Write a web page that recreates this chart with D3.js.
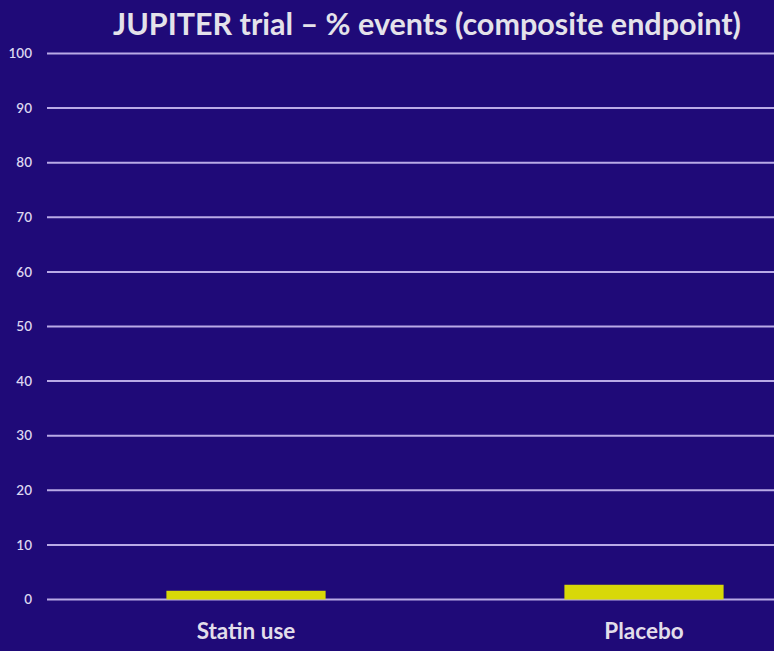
<!DOCTYPE html>
<html><head><meta charset="utf-8">
<script src="https://cdn.jsdelivr.net/npm/d3@7"></script>
<style>html,body{margin:0;padding:0;background:#1f0a78;overflow:hidden}</style>
</head><body>
<script>
const categories = ["Statin use", "Placebo"];
const values = [1.6, 2.7];
const yTicks = [0, 10, 20, 30, 40, 50, 60, 70, 80, 90, 100];
const title = "JUPITER trial – % events (composite endpoint)";

const W = 774, H = 651;
const svg = d3.select("body").append("svg").attr("width", W).attr("height", H);
svg.append("rect").attr("width", W).attr("height", H).attr("fill", "#1f0a78");

const y = d3.scaleLinear().domain([0, 100]).range([599.5, 53.5]);
const x = d3.scaleBand().domain(categories).range([47, 843]).paddingInner(0.6).paddingOuter(0.3);

// gridlines
svg.append("g").selectAll("line").data(yTicks).join("line")
  .attr("x1", 47).attr("x2", W)
  .attr("y1", d => y(d)).attr("y2", d => y(d))
  .attr("stroke", "#b9aae6").attr("stroke-width", 2);

// y tick labels
svg.append("g").selectAll("text").data(yTicks).join("text")
  .attr("x", 32).attr("y", d => y(d)).attr("dy", "0.35em")
  .attr("text-anchor", "end")
  .attr("font-family", "Lato, 'Open Sans', sans-serif").attr("font-size", 13.5).attr("font-weight", 600)
  .attr("fill", "#dcd6f0").text(d => d);

// bars
svg.append("g").selectAll("rect").data(values).join("rect")
  .attr("x", (d, i) => x(categories[i]))
  .attr("width", x.bandwidth())
  .attr("y", d => y(d))
  .attr("height", d => y(0) - y(d))
  .attr("fill", "#d8d808");

// category labels
svg.append("g").selectAll("text").data(categories).join("text")
  .attr("x", d => x(d) + x.bandwidth() / 2).attr("y", 639)
  .attr("text-anchor", "middle")
  .attr("font-family", "Lato, 'Open Sans', sans-serif").attr("font-weight", "bold").attr("font-size", 22.5)
  .attr("fill", "#e2deea").text(d => d);

// title
svg.append("text").attr("x", 427).attr("y", 35).attr("text-anchor", "middle")
  .attr("font-family", "Lato, 'Open Sans', sans-serif").attr("font-weight", "bold").attr("font-size", 30.5)
  .attr("fill", "#e4e2ea").text(title);
</script>
</body></html>
